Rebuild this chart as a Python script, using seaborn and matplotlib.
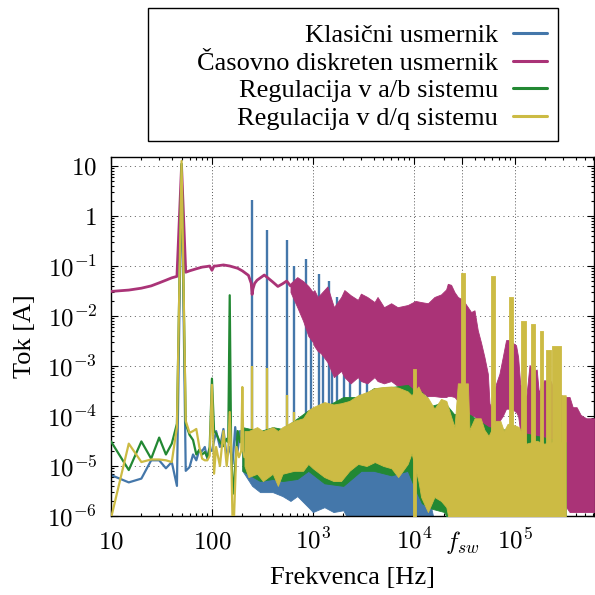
import numpy as np
import matplotlib
matplotlib.use("Agg")
import matplotlib.pyplot as plt
import seaborn as sns
from matplotlib.lines import Line2D
from matplotlib.patches import Rectangle
from matplotlib.ticker import LogLocator, NullFormatter, FixedLocator

# ---------------- data ----------------
series_labels = ["Klasični usmernik", "Časovno diskreten usmernik",
                 "Regulacija v a/b sistemu", "Regulacija v d/q sistemu"]
colors = ["#4477AA", "#AA3377", "#228833", "#CCBB44"]
f_sw = 30e3

x_ticks = [10, 100, 1e3, 1e4, f_sw, 1e5]
x_tick_labels = [r"$10$", r"$100$", r"$10^{3}$", r"$10^{4}$", r"$f_{sw}$", r"$10^{5}$"]
y_ticks = [10, 1, 1e-1, 1e-2, 1e-3, 1e-4, 1e-5, 1e-6]
y_tick_labels = [r"$10$", r"$1$", r"$10^{-1}$", r"$10^{-2}$", r"$10^{-3}$",
                 r"$10^{-4}$", r"$10^{-5}$", r"$10^{-6}$"]

# Klasični usmernik (blue)
blu_lf_f = [10, 15, 20, 25, 30, 35, 40, 45, 50, 55, 60, 65, 70, 75, 80, 85, 90, 95, 100,
            110, 120, 130, 140, 150, 160, 170, 180, 190, 200]
blu_lf_v = [6.6e-6, 4.7e-6, 5.6e-6, 1.3e-5, 1.3e-5, 9e-6, 1.2e-5, 4e-6, 11, 8e-6, 9.5e-6,
            1.7e-5, 1.3e-5, 2.1e-5, 2e-5, 2.4e-5, 1.4e-5, 2.1e-5, 2e-5,
            5e-5, 2.4e-5, 5.5e-5, 1.5e-5, 2.4e-5, 1.1e-5, 6e-5, 2e-5, 5e-5, 2.5e-5]
blu_band_f = [200, 250, 300, 400, 500, 600, 700, 900, 1000, 1300, 1600, 2000, 2600, 4000,
              6000, 9000, 11000, 12500, 14000, 15500, 16000]
blu_band_hi = [4e-5, 4e-5, 3.5e-5, 3e-5, 3e-5, 2.5e-5, 2.5e-5, 2e-5, 2.2e-5, 2e-5, 2e-5,
               2e-5, 1.8e-5, 1.5e-5, 1.2e-5, 1.2e-5, 1.2e-5, 5e-6, 2.5e-6, 1e-6, 5e-7]
blu_band_lo = [8e-6, 4e-6, 3e-6, 3e-6, 2.5e-6, 2e-6, 2.5e-6, 1.5e-6, 1.2e-6, 1.5e-6, 1.2e-6,
               1.3e-6, 5e-7, 5e-7, 5e-7, 5e-7, 5e-7, 5e-7, 5e-7, 5e-7, 5e-7]
blu_spk_f = [250, 350, 550, 650, 850, 950, 1150, 1250, 1450, 1550, 1750, 2050, 2350, 2950,
             3450, 9700, 11800, 13600]
blu_spk_v = [2.1, 0.52, 0.33, 0.10, 0.135, 0.01, 0.068, 0.006, 0.05, 0.004, 0.024, 0.0018,
             0.0013, 0.0011, 0.0012, 4.8e-4, 3.9e-4, 3.3e-4]

# Časovno diskreten usmernik (magenta)
mag_lf_f = [10, 15, 20, 25, 30, 35, 40, 45, 50, 55, 60, 70, 80, 90, 95, 100, 105, 110, 130,
            150, 180, 200, 230, 245, 250, 255, 265, 280, 330, 350, 400, 450, 500, 550, 600]
mag_lf_v = [0.031, 0.033, 0.036, 0.040, 0.046, 0.052, 0.058, 0.062, 10, 0.075, 0.080, 0.088,
            0.095, 0.098, 0.1, 0.082, 0.1, 0.1, 0.105, 0.1, 0.09, 0.08, 0.065, 0.045, 0.027,
            0.035, 0.045, 0.052, 0.066, 0.06, 0.048, 0.039, 0.044, 0.05, 0.04]
mag_band_f = [600, 700, 800, 900, 1000, 1034, 1114, 1200, 1393, 1616,
              1906, 2050, 2370, 2790, 2990, 3460, 4080, 4370, 5060, 5960,
              6900, 8710, 10400, 11800, 13800, 16000, 18600, 20900, 21700, 23400,
              25300, 27300, 30600, 34300, 36900, 39900, 43000, 46400, 50100, 54100,
              56200, 58000, 61100, 65400, 70500, 76000, 82000, 86000, 91300, 97800,
              103000, 108000, 113000, 120000, 130000, 140000, 153000, 165000, 173000, 195000,
              227000, 249000, 313000, 324000, 349000, 375000, 410000, 450000, 510000, 610000]
mag_band_hi = [0.045, 0.06, 0.05, 0.04, 0.03, 0.033, 0.024, 0.028, 0.039, 0.015,
               0.024, 0.033, 0.026, 0.021, 0.028, 0.024, 0.019, 0.024, 0.015, 0.018,
               0.015, 0.0166, 0.02, 0.019, 0.018, 0.024, 0.027, 0.034, 0.044, 0.042,
               0.03, 0.024, 0.021, 0.015, 0.012, 0.013, 0.0052, 0.0029, 0.0015, 7e-4,
               1.8e-4, 1.5e-4, 2.5e-4, 4.5e-4, 7e-4, 0.0015, 0.0033, 0.0033, 0.0032, 0.0028,
               0.0026, 0.0015, 4.5e-4, 3e-4, 2.4e-4, 1.05e-3, 8e-4, 8.5e-4, 3e-4, 5.2e-4,
               5e-4, 3e-4, 2.4e-4, 2.4e-4, 2.4e-4, 1.5e-4, 1.5e-4, 1.05e-4, 9e-5, 9e-5]
mag_band_lo = [0.03, 0.015, 0.008, 0.004, 0.003, 0.0025, 0.002, 0.0018, 0.0012, 6e-4,
               8e-4, 6e-4, 4.5e-4, 6e-4, 5e-4, 4.5e-4, 6e-4, 5e-4, 4.5e-4, 5e-4,
               4e-4, 3e-4, 3e-4, 3e-4, 2.5e-4, 2.5e-4, 2.4e-4, 2.4e-4, 2.5e-4, 2.5e-4,
               2.4e-4, 2e-4, 1.5e-4, 1.2e-4, 1e-4, 1e-4, 8e-5, 7e-5, 6e-5, 5e-5,
               4.5e-5, 4.5e-5, 5e-5, 6e-5, 8e-5, 1e-4, 1.4e-4, 1.4e-4, 1.4e-4, 1.3e-4,
               1.2e-4, 1e-4, 5e-5, 3.4e-5, 3.4e-5, 3.4e-5, 3.4e-5, 3.4e-5, 3.4e-5, 3e-5,
               3e-5, 3e-5, 3e-5, 1.5e-6, 1.2e-6, 1.2e-6, 1.2e-6, 1.2e-6, 1.2e-6, 1.2e-6]

# Regulacija v a/b sistemu (green)
grn_lf_f = [10, 15, 20, 25, 30, 35, 40, 45, 50, 55, 60, 65, 70, 75, 80, 85, 90, 95, 100,
            105, 110, 120, 130, 140, 145, 150, 155, 160, 165, 170, 180, 190, 200]
grn_lf_v = [3.1e-5, 8.3e-6, 3.1e-5, 1.4e-5, 3.7e-5, 1.7e-5, 2.8e-5, 7e-5, 11, 7e-5, 4.2e-5,
            3.3e-5, 1.7e-5, 2.1e-5, 1.7e-5, 1.9e-5, 1.5e-5, 2.4e-5, 5.6e-4,
            5e-5, 4.5e-5, 3e-5, 2.5e-5, 3.5e-5, 3e-5, 0.026, 2e-5, 5e-6, 2.8e-6, 1e-5, 5e-5,
            3e-5, 4e-5]
grn_band_f = [200, 300, 400, 500, 700, 900, 1300, 2000, 3000, 4000, 6000, 8700, 10000,
              12000, 15000, 20000, 25000, 35000, 55000, 100000, 320000]
grn_band_hi = [6e-5, 5e-5, 6e-5, 5.5e-5, 9e-5, 1.3e-4, 1.5e-4, 2.4e-4, 2.4e-4, 3.6e-4,
               3.8e-4, 4.2e-4, 3.3e-4, 3e-4, 1.6e-4, 1.9e-4, 1.1e-4, 1.1e-4, 6e-5, 5e-5, 3e-5]
grn_band_lo = [8e-6, 5e-6, 5.5e-6, 5e-6, 5.5e-6, 8e-6, 4.5e-6, 4e-6, 8e-6, 8e-6, 6.5e-6,
               8e-6, 4e-6, 1.8e-6, 1.4e-6, 1.2e-6, 5e-7, 5e-7, 5e-7, 5e-7, 5e-7]

# Regulacija v d/q sistemu (yellow)
yel_lf_f = [10, 15, 20, 25, 30, 35, 40, 45, 50, 55, 60, 65, 70, 75, 80, 85, 90, 95, 100,
            105, 110, 120, 130, 140, 145, 150, 155, 160, 165, 175, 185, 195, 200, 205, 210]
yel_lf_v = [9e-7, 2.8e-5, 1.2e-5, 1.35e-5, 1.35e-5, 1.3e-5, 1.2e-5, 6e-5, 12.6, 8e-5, 4.6e-5,
            5e-5, 5.5e-5, 2.4e-5, 1.4e-5, 1.3e-5, 1.3e-5, 1.6e-5, 4.2e-4,
            7e-6, 2.4e-5, 1e-5, 5e-5, 1e-5, 2e-5, 1.2e-4, 2e-5, 8e-7, 8e-7, 2.4e-5, 1.5e-5,
            2e-5, 3.8e-4, 2e-5, 1.5e-5]
yel_band_f = [210, 230, 280, 320, 400, 450, 500, 650, 800, 900,
              1000, 1300, 1600, 1900, 2300, 2800, 3400, 4100, 5000, 6000,
              7000, 8700, 9500, 11100, 11800, 13800, 16000, 18600, 21000, 23400,
              25300, 27300, 34300, 35600, 40000, 46000, 50000, 55000, 65000, 72000,
              78000, 85000, 100000, 110000, 130000, 165000, 195000, 240000, 289000, 290000,
              320000]
yel_band_hi = [5e-5, 5e-5, 6e-5, 5e-5, 6e-5, 5e-5, 6e-5, 8e-5, 9e-5, 1.3e-4,
               1.5e-4, 1.9e-4, 1.7e-4, 1.8e-4, 2e-4, 2.6e-4, 3e-4, 3.6e-4, 3.8e-4, 3.9e-4,
               3.7e-4, 3.1e-4, 2.6e-4, 3.9e-4, 3e-4, 2.3e-4, 1.4e-4, 2.2e-4, 2e-4, 9.7e-5,
               6e-5, 4.5e-4, 4.5e-4, 5.3e-5, 9e-5, 9e-5, 5.3e-5, 4e-5, 8e-5, 8e-5,
               5e-5, 7e-5, 6.5e-5, 6e-5, 2.8e-5, 3.2e-5, 2.8e-5, 3e-5, 3e-5, 2.6e-4,
               2.6e-4]
yel_band_lo = [1e-5, 6e-6, 7e-6, 5e-6, 7e-6, 4e-6, 7e-6, 8e-6, 8e-6, 1.1e-5,
               9e-6, 6e-6, 5e-6, 5e-6, 8e-6, 1.1e-5, 1e-5, 1.2e-5, 1e-5, 9e-6,
               6e-6, 1.1e-5, 1.8e-5, 5e-6, 2.4e-6, 1.2e-6, 2.4e-6, 2e-6, 1.5e-6, 5e-7,
               5e-7, 5e-7, 5e-7, 5e-7, 5e-7, 5e-7, 5e-7, 5e-7, 5e-7, 5e-7,
               5e-7, 5e-7, 5e-7, 5e-7, 5e-7, 5e-7, 5e-7, 5e-7, 5e-7, 5e-7,
               5e-7]
yel_spk_f = [250, 350, 550, 650]
yel_spk_v = [1e-3, 9e-4, 2.6e-4, 1.2e-4]
yel_blk_lo = [9.8e3, 29.4e3, 58.2e3, 87.3e3, 116e3, 146e3, 177e3, 203e3, 232e3]
yel_blk_hi = [10.5e3, 31.8e3, 63.8e3, 95.5e3, 128e3, 160e3, 191e3, 227e3, 290e3]
yel_blk_v = [8.6e-4, 0.071, 0.062, 0.024, 0.0081, 0.0069, 0.0049, 0.0021, 0.0025]

# ---------------- style ----------------
sns.set_theme(style="ticks")
plt.rcParams.update({
    "font.family": ["Liberation Serif", "DejaVu Serif"],
    "mathtext.fontset": "cm",
    "axes.linewidth": 1.0,
    "axes.edgecolor": "black",
    "xtick.color": "black",
    "ytick.color": "black",
    "text.color": "black",
})
FS = 19

fig = plt.figure(figsize=(5.95, 5.95), dpi=100)
W = H = 595.0
ax = fig.add_axes([111 / W, 1 - 516 / H, (594 - 111) / W, (516 - 157) / H])
ax.set_xscale("log")
ax.set_yscale("log")


def logi(x, xp, fp):
    return 10 ** np.interp(np.log10(x), np.log10(xp), np.log10(fp))


LW = 1.6
# blue
c = colors[0]
sns.lineplot(x=blu_lf_f, y=blu_lf_v, ax=ax, color=c, linewidth=LW, zorder=2,
             estimator=None, sort=False, legend=False)
ax.fill_between(blu_band_f, blu_band_lo, blu_band_hi, color=c, lw=0.6, zorder=2)
ax.vlines(blu_spk_f, logi(blu_spk_f, blu_band_f, blu_band_hi), blu_spk_v, color=c,
          lw=1.7, zorder=2)
# magenta
c = colors[1]
sns.lineplot(x=mag_lf_f, y=mag_lf_v, ax=ax, color=c, linewidth=LW + 0.4, zorder=3,
             estimator=None, sort=False, legend=False)
ax.fill_between(mag_band_f, mag_band_lo, mag_band_hi, color=c, lw=0.6, zorder=3)
# green
c = colors[2]
sns.lineplot(x=grn_lf_f, y=grn_lf_v, ax=ax, color=c, linewidth=LW, zorder=4,
             estimator=None, sort=False, legend=False)
ax.fill_between(grn_band_f, grn_band_lo, grn_band_hi, color=c, lw=0.6, zorder=4)
# yellow
c = colors[3]
sns.lineplot(x=yel_lf_f, y=yel_lf_v, ax=ax, color=c, linewidth=LW, zorder=5,
             estimator=None, sort=False, legend=False)
ax.fill_between(yel_band_f, yel_band_lo, yel_band_hi, color=c, lw=0.6, zorder=5)
ax.vlines(yel_spk_f, logi(yel_spk_f, yel_band_f, yel_band_hi), yel_spk_v, color=c,
          lw=1.7, zorder=5)
for lo, hi, v in zip(yel_blk_lo, yel_blk_hi, yel_blk_v):
    ax.fill_between([lo, hi], [5e-7, 5e-7], [v, v], color=c, lw=0.6, zorder=5)

# ---------------- axes ----------------
ax.set_xlim(10, 10 ** 5.785)
ax.set_ylim(1e-6, 10 ** 1.18)
ax.xaxis.set_major_locator(FixedLocator(x_ticks))
ax.set_xticklabels(x_tick_labels)
ax.xaxis.set_minor_locator(LogLocator(base=10, subs=np.arange(2, 10), numticks=20))
ax.xaxis.set_minor_formatter(NullFormatter())
ax.yaxis.set_major_locator(FixedLocator(y_ticks))
ax.set_yticklabels(y_tick_labels)
ax.yaxis.set_minor_locator(LogLocator(base=10, subs=np.arange(2, 10), numticks=20))
ax.yaxis.set_minor_formatter(NullFormatter())
ax.tick_params(which="both", direction="in", top=True, right=True, labelsize=FS - 1,
               width=0.8)
ax.tick_params(which="major", length=5)
ax.tick_params(which="minor", length=2.5)
ax.tick_params(axis="x", pad=23.5)
ax.tick_params(axis="y", pad=10)
plt.setp(ax.get_xticklabels(), va="baseline")
ax.set_axisbelow(True)
ax.xaxis.grid(True, which="major", linestyle=(0, (1, 2.2)), color="#555555", lw=0.7)
ax.yaxis.grid(True, which="major", linestyle=(0, (1, 3.8)), color="#555555", lw=0.7)
ax.yaxis.grid(False, which="minor")
ax.xaxis.grid(False, which="minor")
for s in ax.spines.values():
    s.set_visible(True)
    s.set_color("black")
    s.set_linewidth(1.0)

fig.text(352.5 / W, 1 - 578 / H, "Frekvenca [Hz]", ha="center", va="center", fontsize=FS)
fig.text(25 / W, 1 - 336.5 / H, "Tok [A]", ha="center", va="center", rotation=90,
         fontsize=FS)

# ---------------- legend ----------------
handles = [Line2D([], [], color=col, lw=2.2) for col in colors]
fig.legend(handles, series_labels, loc="upper right",
           bbox_to_anchor=(547 / W, 1 - 24 / H), frameon=False, markerfirst=False,
           fontsize=FS, handlelength=1.3, handletextpad=0.55, labelspacing=0.15,
           borderpad=0, borderaxespad=0)
fig.add_artist(Rectangle((148 / W, 1 - 141 / H), 410 / W, 133 / H,
                         transform=fig.transFigure, fill=False, lw=1.0, ec="black"))

fig.savefig("out.png", dpi=100)
